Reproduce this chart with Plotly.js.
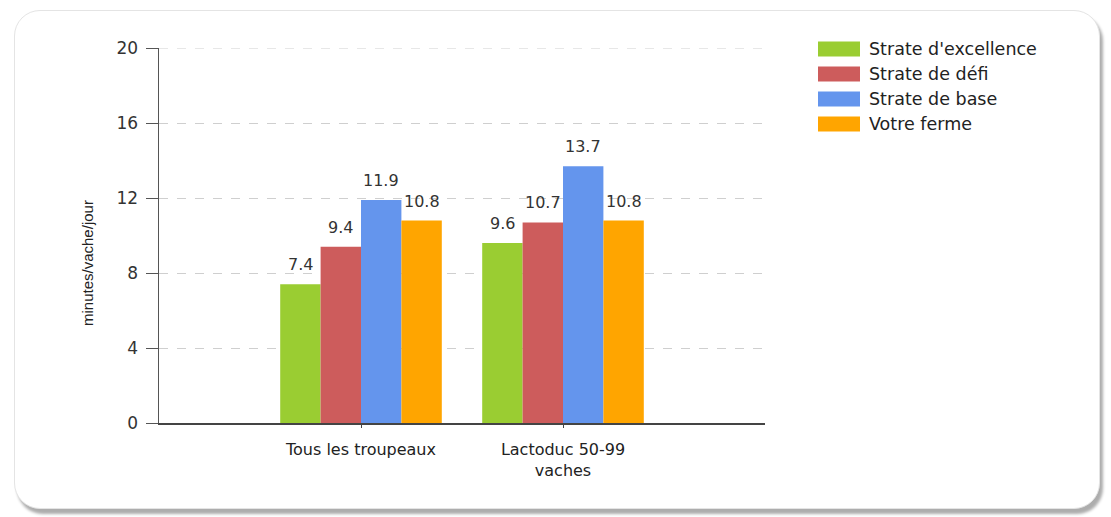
<!DOCTYPE html>
<html>
<head>
<meta charset="utf-8">
<script src="https://cdn.plot.ly/plotly-3.0.1.min.js"></script>
<style>
html,body{margin:0;padding:0;background:#fff;}
#wrap{position:relative;width:1111px;height:517px;overflow:hidden;}
#frame{position:absolute;left:14px;top:10px;width:1084px;height:497px;border:1px solid #e4e4e4;border-radius:26px;box-shadow:3px 5px 3px #adadad;background:#fff;}
#chart{position:absolute;left:0;top:0;width:1111px;height:517px;}
</style>
</head>
<body>
<div id="wrap"><div id="frame"></div><div id="chart"></div></div>
<script>
const categories = ["Tous les troupeaux", "Lactoduc 50-99<br>vaches"];
const seriesNames = ["Strate d'excellence", "Strate de défi", "Strate de base", "Votre ferme"];
const excellence = [7.4, 9.6];
const defi = [9.4, 10.7];
const base = [11.9, 13.7];
const ferme = [10.8, 10.8];
const colors = ["#9ACD32", "#CD5C5C", "#6495ED", "#FFA500"];
const yTicks = [0, 4, 8, 12, 16, 20];

const values = [excellence, defi, base, ferme];
const nSeries = values.length;
const groupWidth = 0.8;
const barW = groupWidth / nSeries;

const traces = values.map((v, i) => ({
  type: "bar",
  name: seriesNames[i],
  x: categories,
  y: v,
  marker: {color: colors[i]},
  hoverinfo: "none",
  showlegend: false
}));

// Value labels above bars (positioned from data via the axes)
const annotations = [];
values.forEach((v, i) => {
  v.forEach((d, c) => {
    annotations.push({
      xref: "x", yref: "y",
      x: c + (i - (nSeries - 1) / 2) * barW,
      y: d,
      text: d.toFixed(1),
      showarrow: false,
      yanchor: "bottom",
      yshift: 8,
      font: {family: "DejaVu Sans, sans-serif", size: 16, color: "#333"}
    });
  });
});

// Plot geometry (px) used for placing legend and axis title in paper coords
const P = {l: 159, t: 48, w: 606, h: 375};
const px2x = px => (px - P.l) / P.w;
const py2y = py => (P.t + P.h - py) / P.h;

const shapes = [];
// top gridline at the range edge (Plotly omits it)
shapes.push({
  type: "line", xref: "paper", yref: "y",
  x0: 0, x1: 1, y0: yTicks[yTicks.length - 1], y1: yTicks[yTicks.length - 1],
  line: {color: "#cfcfcf", width: 1, dash: "dash"}, layer: "below"
});

// Custom legend with wide swatches
seriesNames.forEach((name, i) => {
  const cy = 49 + 25 * i;
  shapes.push({
    type: "rect", xref: "paper", yref: "paper",
    x0: px2x(818), x1: px2x(860), y0: py2y(cy + 7.5), y1: py2y(cy - 7.5),
    fillcolor: colors[i], line: {width: 0}
  });
  annotations.push({
    xref: "paper", yref: "paper", x: px2x(867), y: py2y(cy),
    xanchor: "left", yanchor: "middle", showarrow: false,
    text: name,
    font: {family: "DejaVu Sans, sans-serif", size: 17.5, color: "#222"}
  });
});

// Y axis title
annotations.push({
  xref: "paper", yref: "paper", x: px2x(87), y: py2y(263),
  xanchor: "center", yanchor: "middle", showarrow: false, textangle: -90,
  text: "minutes/vache/jour",
  font: {family: "Liberation Sans Narrow, Liberation Sans, Arial, sans-serif", size: 15, color: "#222"}
});

const layout = {
  width: 1111, height: 517,
  paper_bgcolor: "rgba(0,0,0,0)",
  plot_bgcolor: "rgba(0,0,0,0)",
  margin: {l: 159, r: 346, t: 48, b: 94},
  barmode: "group",
  bargap: 1 - groupWidth,
  bargroupgap: 0,
  showlegend: false,
  shapes: shapes,
  annotations: annotations,
  xaxis: {
    type: "category",
    range: [-1, 2],
    showline: true, linecolor: "#444", linewidth: 1.5,
    ticks: "outside", ticklen: 3, tickcolor: "#444",
    ticklabelstandoff: 8,
    tickfont: {family: "DejaVu Sans, sans-serif", size: 16, color: "#222"},
    showgrid: false, zeroline: false, fixedrange: true
  },
  yaxis: {
    range: [0, 20],
    tickvals: yTicks,
    ticktext: yTicks.map(String),
    showline: true, linecolor: "#555", linewidth: 1.5,
    ticks: "outside", ticklen: 12, tickcolor: "#555",
    ticklabelstandoff: 4,
    tickfont: {family: "DejaVu Sans, sans-serif", size: 17, color: "#333"},
    showgrid: true, gridcolor: "#cfcfcf", griddash: "dash", gridwidth: 1,
    zeroline: false, fixedrange: true
  }
};

Plotly.newPlot("chart", traces, layout, {staticPlot: true, displayModeBar: false});
</script>
</body>
</html>
